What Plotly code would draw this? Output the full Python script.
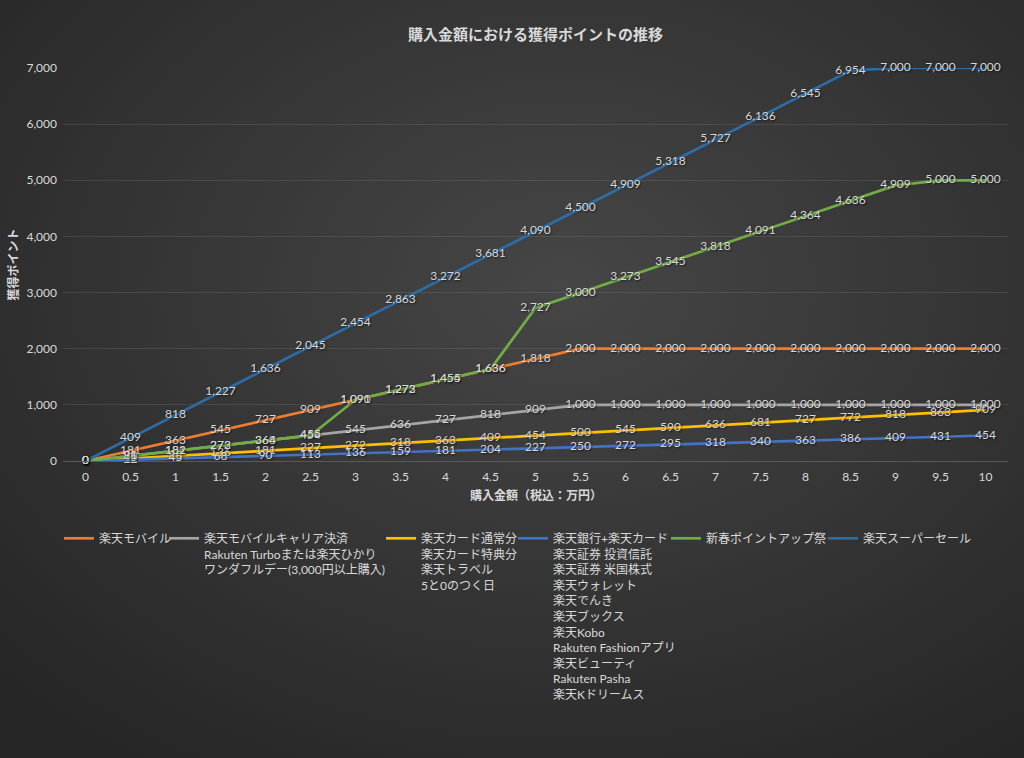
import base64

import plotly.graph_objects as go

# x categories: purchase amount (万円)
amounts = ["0", "0.5", "1", "1.5", "2", "2.5", "3", "3.5", "4", "4.5", "5",
           "5.5", "6", "6.5", "7", "7.5", "8", "8.5", "9", "9.5", "10"]

mobile = [0, 181, 363, 545, 727, 909, 1090, 1272, 1454, 1636, 1818,
          2000, 2000, 2000, 2000, 2000, 2000, 2000, 2000, 2000, 2000]
carrier = [0, 90, 181, 272, 363, 454, 545, 636, 727, 818, 909,
           1000, 1000, 1000, 1000, 1000, 1000, 1000, 1000, 1000, 1000]
card = [0, 45, 90, 136, 181, 227, 272, 318, 363, 409, 454,
        500, 545, 590, 636, 681, 727, 772, 818, 863, 909]
bank = [0, 22, 45, 68, 90, 113, 136, 159, 181, 204, 227,
        250, 272, 295, 318, 340, 363, 386, 409, 431, 454]
newyear = [0, 91, 182, 273, 364, 455, 1091, 1273, 1455, 1636, 2727,
           3000, 3273, 3545, 3818, 4091, 4364, 4636, 4909, 5000, 5000]
supersale = [0, 409, 818, 1227, 1636, 2045, 2454, 2863, 3272, 3681, 4090,
             4500, 4909, 5318, 5727, 6136, 6545, 6954, 7000, 7000, 7000]

series = [
    ("楽天モバイル", mobile, "#ED7D31"),
    ("楽天モバイルキャリア決済<br>Rakuten Turboまたは楽天ひかり<br>ワンダフルデー(3,000円以上購入)",
     carrier, "#A5A5A5"),
    ("楽天カード通常分<br>楽天カード特典分<br>楽天トラベル<br>5と0のつく日", card, "#FFC000"),
    ("楽天銀行+楽天カード<br>楽天証券 投資信託<br>楽天証券 米国株式<br>楽天ウォレット<br>楽天でんき"
     "<br>楽天ブックス<br>楽天Kobo<br>Rakuten Fashionアプリ<br>楽天ビューティ<br>Rakuten Pasha"
     "<br>楽天Kドリームス", bank, "#4472C4"),
    ("新春ポイントアップ祭", newyear, "#70AD47"),
    ("楽天スーパーセール", supersale, "#2E6CA6"),
]
# where each legend entry's text starts (px from the left)
legend_text_x = [93, 198, 415, 547, 700, 857]

FONT = "Lato, 'Noto Sans CJK JP', sans-serif"
TXT = "#d9d9d9"

L, R, T, B = 63, 16, 68, 297
pw, ph = 1024 - L - R, 758 - T - B

fig = go.Figure()

# lines first so that every data label sits above all lines (like Excel)
for i, (name, vals, col) in enumerate(series):
    fig.add_trace(go.Scatter(
        x=amounts, y=vals, name=name, mode="lines",
        line=dict(color=col, width=2.7),
        legend="legend" if i == 0 else f"legend{i + 1}",
    ))
for name, vals, col in series:
    fig.add_trace(go.Scatter(
        x=amounts, y=vals, mode="text", showlegend=False, cliponaxis=False,
        texttemplate="%{y:,}", textposition="middle center",
        textfont=dict(family=FONT, size=12, color=TXT,
                      shadow="1px 1px 2px rgba(0,0,0,0.6)"),
        hoverinfo="skip",
    ))

# dark gradient background (Excel dark chart style)
svg = ('<svg xmlns="http://www.w3.org/2000/svg" width="1024" height="758" '
       'viewBox="0 0 1024 758" preserveAspectRatio="none"><defs>'
       '<radialGradient id="g" cx="0.55" cy="0.38" r="0.75">'
       '<stop offset="0" stop-color="#464646"/><stop offset="1" stop-color="#262626"/>'
       '</radialGradient></defs><rect width="1024" height="758" fill="url(#g)"/></svg>')
bg_src = "data:image/svg+xml;base64," + base64.b64encode(svg.encode()).decode()

fig.add_layout_image(
    source=bg_src, xref="paper", yref="paper",
    x=-L / pw, y=1 + T / ph, sizex=1024 / pw, sizey=758 / ph,
    xanchor="left", yanchor="top", sizing="stretch", layer="below",
)

# axis titles
fig.add_annotation(text="<b>購入金額（税込：万円）</b>", xref="paper", yref="paper",
                   x=0.5, y=-(495 - 461) / ph, xanchor="center", yanchor="middle",
                   showarrow=False, font=dict(size=12, color=TXT))
fig.add_annotation(text="<b>獲得ポイント</b>", xref="paper", yref="paper",
                   x=(13 - L) / pw, y=0.5, xanchor="center", yanchor="middle",
                   textangle=-90, showarrow=False, font=dict(size=12, color=TXT))

legend_y = -(524 - 461) / ph
legends = {}
for i, tx in enumerate(legend_text_x):
    key = "legend" if i == 0 else f"legend{i + 1}"
    legends[key] = dict(
        orientation="v", x=(tx - 34 - L) / pw, xanchor="left",
        y=legend_y, yanchor="top", valign="top",
        bgcolor="rgba(0,0,0,0)", font=dict(size=12, color=TXT),
    )

fig.update_layout(
    width=1024, height=758,
    margin=dict(l=L, r=R, t=T, b=B),
    paper_bgcolor="#333333",
    plot_bgcolor="rgba(0,0,0,0)",
    font=dict(family=FONT, color=TXT, size=12),
    title=dict(
        text="<b>購入金額における獲得ポイントの推移</b>",
        x=(L + pw / 2) / 1024, xanchor="center", y=1 - 35 / 758, yanchor="middle",
        font=dict(family=FONT, size=15, color=TXT),
    ),
    xaxis=dict(
        type="category", range=[-0.5, 20.5], automargin=False,
        showgrid=False, showline=True, linecolor="#5a5a5a", linewidth=1,
        ticks="", ticklabelstandoff=5, tickfont=dict(size=12, color=TXT),
    ),
    yaxis=dict(
        range=[0, 7000], dtick=1000, tickformat=",", automargin=False,
        showline=False, gridcolor="rgba(255,255,255,0.09)", gridwidth=1,
        zeroline=False, ticks="", ticklabelstandoff=5,
        tickfont=dict(size=12, color=TXT),
    ),
    showlegend=True,
    **legends,
)

fig.write_html("out.html", config={"displayModeBar": False},
               post_script="document.body.style.margin='0';")
